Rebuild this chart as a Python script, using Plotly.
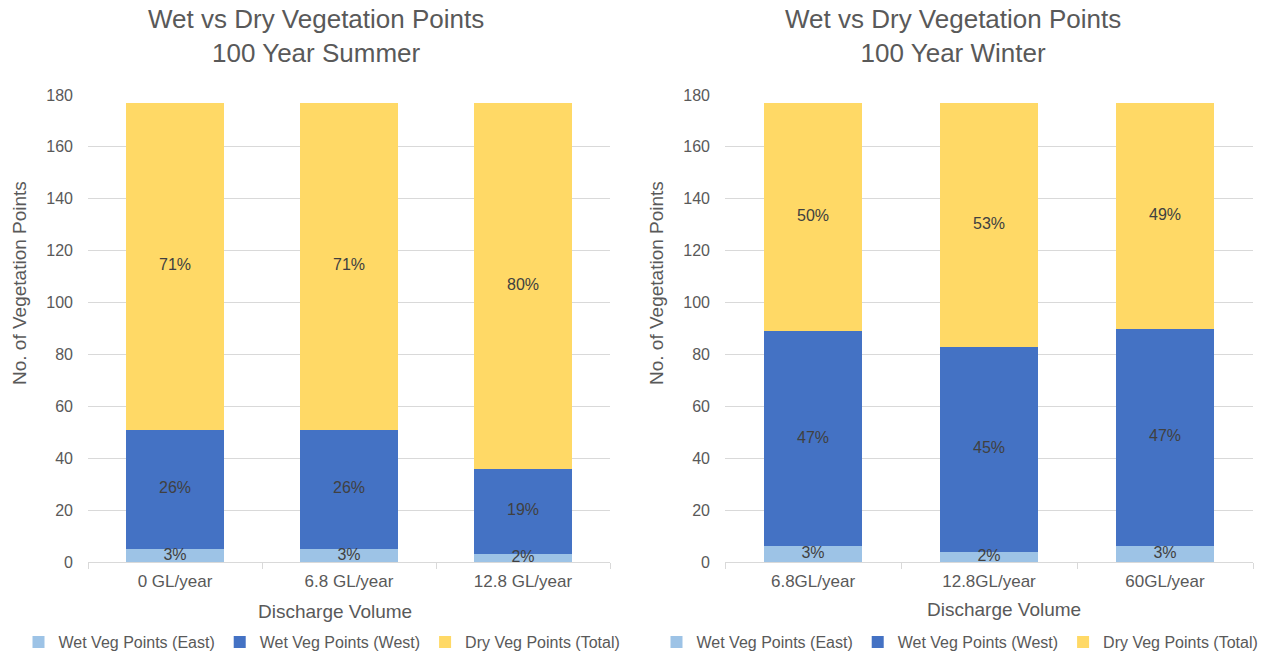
import plotly.graph_objects as go

# Categories (discharge volumes)
summer_cats = ["0 GL/year", "6.8 GL/year", "12.8 GL/year"]
winter_cats = ["6.8GL/year", "12.8GL/year", "60GL/year"]

# Vegetation point counts per series
summer_east = [5, 5, 3]
summer_west = [46, 46, 33]
summer_dry = [126, 126, 141]

winter_east = [6, 4, 6]
winter_west = [83, 79, 84]
winter_dry = [88, 94, 87]

series_names = ["Wet Veg Points (East)", "Wet Veg Points (West)", "Dry Veg Points (Total)"]
series_colors = ["#9DC3E6", "#4472C4", "#FFD966"]

FONT = "Liberation Sans, Arial, sans-serif"
GRAY = "#595959"
LABEL = "#404040"
W, H = 1268, 655

fig = go.Figure()


def add_panel(cats, stacks, xaxis, yaxis, legend):
    totals = [sum(v) for v in zip(*stacks)]
    base = [0] * len(cats)
    for name, color, vals in zip(series_names, series_colors, stacks):
        fig.add_trace(go.Bar(
            x=cats, y=vals, name=name, marker=dict(color=color, line=dict(width=0)),
            xaxis=xaxis, yaxis=yaxis, legend=legend, width=0.56,
        ))
        mids = [b + v / 2 for b, v in zip(base, vals)]
        pct = [f"{round(100 * v / t)}%" for v, t in zip(vals, totals)]
        fig.add_trace(go.Scatter(
            x=cats, y=mids, text=pct, mode="text", showlegend=False,
            textfont=dict(family=FONT, size=16, color=LABEL),
            xaxis=xaxis, yaxis=yaxis, hoverinfo="skip",
        ))
        base = [b + v for b, v in zip(base, vals)]


add_panel(summer_cats, [summer_east, summer_west, summer_dry], "x", "y", "legend")
add_panel(winter_cats, [winter_east, winter_west, winter_dry], "x2", "y2", "legend2")

ydom = [1 - 562 / H, 1 - 95 / H]
xaxis_common = dict(
    showgrid=False, showline=True, linecolor="#D9D9D9", linewidth=1,
    ticks="outside", tickson="boundaries", ticklen=6, tickcolor="#D9D9D9",
    tickfont=dict(family=FONT, size=17, color=GRAY), fixedrange=True,
    automargin=False, ticklabelstandoff=4,
)
yaxis_common = dict(
    range=[0, 180], dtick=20, showgrid=True, gridcolor="#D9D9D9", gridwidth=1,
    zeroline=False, showline=False, ticks="", automargin=False,
    tickfont=dict(family=FONT, size=16, color=GRAY), domain=ydom, ticklabelstandoff=14,
)

legend_common = dict(
    orientation="h", xref="container", yref="container", y=1 - 642 / H, yanchor="middle",
    xanchor="center", font=dict(family=FONT, size=16, color=GRAY), itemwidth=30,
    traceorder="normal",
)

fig.update_layout(
    width=W, height=H, margin=dict(l=0, r=0, t=0, b=0, autoexpand=False),
    paper_bgcolor="white", plot_bgcolor="white", barmode="stack",
    font=dict(family=FONT, color=GRAY),
    xaxis=dict(domain=[88 / W, 610 / W], anchor="y", **xaxis_common),
    yaxis=dict(anchor="x", **yaxis_common),
    xaxis2=dict(domain=[725 / W, 1253 / W], anchor="y2", **xaxis_common),
    yaxis2=dict(anchor="x2", **yaxis_common),
    legend=dict(x=322 / W, **legend_common),
    legend2=dict(x=960 / W, **legend_common),
    showlegend=True,
)

for text, cx in [("Wet vs Dry Vegetation Points<br>100 Year Summer", 316),
                 ("Wet vs Dry Vegetation Points<br>100 Year Winter", 953)]:
    fig.add_annotation(text=text, xref="paper", yref="paper", x=cx / W, y=1 - 36 / H,
                       showarrow=False, xanchor="center", yanchor="middle",
                       font=dict(family=FONT, size=26, color=GRAY))

for cx, cy in [(335, 611), (1004, 609)]:
    fig.add_annotation(text="Discharge Volume", xref="paper", yref="paper", x=cx / W, y=1 - cy / H,
                       xanchor="center", yanchor="middle",
                       showarrow=False, font=dict(family=FONT, size=19, color=GRAY))
for cx in [19, 656]:
    fig.add_annotation(text="No. of Vegetation Points", xref="paper", yref="paper", x=cx / W,
                       y=1 - 283 / H, xanchor="center", yanchor="middle",
                       showarrow=False, textangle=-90, font=dict(family=FONT, size=19, color=GRAY))

fig.write_html("out.html")
